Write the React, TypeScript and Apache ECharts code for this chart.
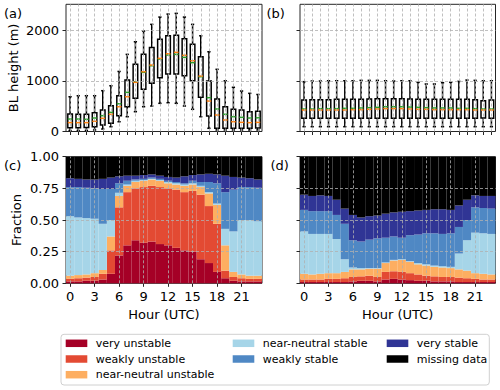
import React, { useEffect, useRef } from "react";
import * as echarts from "echarts";

// ---------- categories ----------
const hours = ["0","1","2","3","4","5","6","7","8","9","10","11","12","13","14","15","16","17","18","19","20","21","22","23"];
const classNames = ["very unstable","weakly unstable","near-neutral unstable","near-neutral stable","weakly stable","very stable","missing data"];
const classColors = ["#a50026","#e34a33","#fdae61","#a6d5e8","#4f88c4","#303595","#000000"];

// ---------- panel (a): BL height box statistics (m) ----------
const aMin  = [20, 20, 20, 30, 49, 95, 193, 292, 391, 489, 503, 556, 568, 556, 503, 438, 292, 63, 30, 30, 30, 30, 30, 30];
const aQ1   = [75, 75, 78, 95, 128, 161, 312, 489, 655, 832, 950, 1061, 1134, 1134, 1100, 1002, 674, 306, 63, 63, 63, 63, 65, 70];
const aMed  = [175, 174, 174, 201, 260, 339, 489, 686, 970, 1180, 1311, 1443, 1534, 1562, 1503, 1396, 1094, 601, 325, 227, 193, 181, 174, 180];
const aQ3   = [345, 340, 340, 371, 424, 509, 706, 1016, 1325, 1522, 1660, 1818, 1889, 1897, 1830, 1720, 1475, 996, 641, 489, 438, 424, 391, 400];
const aMax  = [686, 706, 706, 706, 805, 903, 1185, 1522, 1771, 1982, 2114, 2258, 2317, 2331, 2258, 2114, 1889, 1574, 1227, 1002, 872, 799, 753, 730];
const aMean = [246, 246, 240, 266, 312, 378, 548, 773, 982, 1167, 1298, 1430, 1509, 1522, 1463, 1357, 1081, 667, 444, 339, 292, 280, 266, 270];

// ---------- panel (b): BL height box statistics (m) ----------
const bMin  = [95, 95, 95, 95, 95, 95, 95, 95, 95, 95, 95, 95, 95, 95, 95, 95, 95, 95, 95, 95, 95, 95, 95, 95];
const bQ1   = [260, 260, 260, 260, 260, 260, 260, 260, 260, 260, 260, 260, 260, 260, 260, 260, 260, 260, 260, 260, 260, 260, 267, 260];
const bMed  = [424, 424, 424, 424, 424, 424, 431, 431, 438, 444, 451, 451, 451, 444, 438, 438, 431, 431, 431, 431, 431, 424, 424, 424];
const bQ3   = [621, 628, 628, 628, 635, 635, 635, 635, 641, 648, 648, 648, 648, 641, 635, 635, 635, 635, 635, 635, 635, 628, 608, 621];
const bMax  = [983, 996, 996, 1002, 1002, 1002, 1002, 1009, 1009, 1009, 1002, 996, 1002, 1002, 970, 937, 937, 963, 970, 989, 1015, 1009, 1002, 1002];
const bMean = [444, 444, 451, 451, 451, 457, 457, 464, 470, 477, 489, 489, 489, 483, 477, 470, 464, 464, 464, 457, 457, 451, 444, 444];

// ---------- panel (c): class fractions ----------
const cVeryUnstable   = [0.015, 0.015, 0.02, 0.02, 0.03, 0.075, 0.22, 0.30, 0.34, 0.32, 0.33, 0.31, 0.30, 0.28, 0.26, 0.25, 0.19, 0.16, 0.09, 0.04, 0.02, 0.015, 0.015, 0.015];
const cWeaklyUnstable = [0.02, 0.025, 0.025, 0.03, 0.045, 0.185, 0.38, 0.42, 0.41, 0.44, 0.44, 0.45, 0.45, 0.46, 0.46, 0.48, 0.51, 0.45, 0.38, 0.06, 0.03, 0.025, 0.02, 0.02];
const cNNUnstable     = [0.025, 0.025, 0.025, 0.03, 0.03, 0.11, 0.09, 0.05, 0.05, 0.05, 0.05, 0.05, 0.04, 0.04, 0.05, 0.05, 0.06, 0.10, 0.15, 0.20, 0.04, 0.03, 0.025, 0.025];
const cNNStable       = [0.47, 0.455, 0.445, 0.43, 0.365, 0.13, 0.025, 0.01, 0.01, 0.005, 0.005, 0.005, 0.01, 0.01, 0.01, 0.01, 0.01, 0.01, 0.01, 0.13, 0.32, 0.43, 0.44, 0.43];
const cWeaklyStable   = [0.23, 0.24, 0.24, 0.24, 0.275, 0.245, 0.075, 0.03, 0.01, 0.01, 0.01, 0.01, 0.01, 0.01, 0.01, 0.02, 0.03, 0.08, 0.16, 0.29, 0.33, 0.26, 0.26, 0.265];
const cVeryStable     = [0.07, 0.065, 0.065, 0.07, 0.08, 0.09, 0.055, 0.04, 0.03, 0.03, 0.025, 0.025, 0.03, 0.035, 0.055, 0.045, 0.06, 0.065, 0.07, 0.13, 0.10, 0.075, 0.07, 0.065];
const cMissing        = [0.17, 0.175, 0.18, 0.18, 0.175, 0.165, 0.155, 0.15, 0.15, 0.145, 0.14, 0.15, 0.16, 0.165, 0.155, 0.145, 0.14, 0.135, 0.14, 0.15, 0.16, 0.165, 0.17, 0.18];

// ---------- panel (d): class fractions ----------
const dVeryUnstable   = [0.01, 0.01, 0.01, 0.01, 0.01, 0.01, 0.015, 0.02, 0.02, 0.015, 0.03, 0.035, 0.03, 0.025, 0.02, 0.02, 0.015, 0.015, 0.015, 0.01, 0.01, 0.01, 0.01, 0.01];
const dWeaklyUnstable = [0.02, 0.02, 0.02, 0.025, 0.025, 0.03, 0.035, 0.035, 0.04, 0.035, 0.06, 0.06, 0.06, 0.055, 0.05, 0.04, 0.04, 0.035, 0.035, 0.035, 0.03, 0.025, 0.02, 0.02];
const dNNUnstable     = [0.045, 0.04, 0.045, 0.045, 0.045, 0.05, 0.06, 0.055, 0.055, 0.065, 0.07, 0.085, 0.095, 0.09, 0.08, 0.08, 0.075, 0.075, 0.07, 0.065, 0.06, 0.045, 0.045, 0.04];
const dNNStable       = [0.335, 0.32, 0.315, 0.31, 0.27, 0.10, 0.015, 0.01, 0.005, 0.005, 0.005, 0.005, 0.005, 0.005, 0.01, 0.01, 0.01, 0.01, 0.01, 0.125, 0.24, 0.32, 0.32, 0.32];
const dWeaklyStable   = [0.17, 0.18, 0.18, 0.18, 0.19, 0.28, 0.215, 0.21, 0.225, 0.235, 0.195, 0.185, 0.17, 0.205, 0.225, 0.245, 0.255, 0.255, 0.265, 0.21, 0.16, 0.20, 0.20, 0.20];
const dVeryStable     = [0.12, 0.12, 0.125, 0.12, 0.12, 0.12, 0.20, 0.19, 0.185, 0.18, 0.19, 0.19, 0.205, 0.19, 0.19, 0.185, 0.19, 0.195, 0.185, 0.17, 0.16, 0.095, 0.095, 0.10];
const dMissing        = [0.30, 0.31, 0.305, 0.31, 0.34, 0.41, 0.46, 0.48, 0.47, 0.465, 0.45, 0.44, 0.435, 0.43, 0.425, 0.42, 0.415, 0.415, 0.42, 0.385, 0.34, 0.305, 0.31, 0.31];

// ---------- tick labels ----------
const heightTicks = [0, 1000, 2000];
const fractionTicks = [0, 0.25, 0.5, 0.75, 1];
const hourGridLines = ["0","3","6","9","12","15","18","21"];

const FONT = "DejaVu Sans";
const GRID_LINE = { type: [3, 2] as any, color: "#b0b0b0", width: 0.8 };

function boxData(mn: number[], q1: number[], md: number[], q3: number[], mx: number[], mean: number[]) {
  return hours.map((_, i) => [i, mn[i], q1[i], md[i], q3[i], mx[i], mean[i]]);
}

function renderBox(params: any, api: any) {
  const x = api.value(0);
  const lo = api.coord([x, api.value(1)]);
  const q1 = api.coord([x, api.value(2)]);
  const md = api.coord([x, api.value(3)]);
  const q3 = api.coord([x, api.value(4)]);
  const hi = api.coord([x, api.value(5)]);
  const mn = api.coord([x, api.value(6)]);
  const bw = api.size([1, 0])[0];
  const half = bw * 0.28;
  const cap = bw * 0.2;
  const cx = lo[0];
  const k = { stroke: "#000", lineWidth: 1.5 };
  return {
    type: "group",
    children: [
      { type: "line", shape: { x1: cx, y1: hi[1], x2: cx, y2: q3[1] }, style: k },
      { type: "line", shape: { x1: cx, y1: q1[1], x2: cx, y2: lo[1] }, style: k },
      { type: "line", shape: { x1: cx - cap, y1: hi[1], x2: cx + cap, y2: hi[1] }, style: k },
      { type: "line", shape: { x1: cx - cap, y1: lo[1], x2: cx + cap, y2: lo[1] }, style: k },
      { type: "rect", shape: { x: cx - half, y: q3[1], width: 2 * half, height: q1[1] - q3[1] }, style: { fill: "none", stroke: "#000", lineWidth: 1.5 } },
      { type: "line", shape: { x1: cx - half, y1: mn[1], x2: cx + half, y2: mn[1] }, style: { stroke: "#2ca02c", lineWidth: 1.5 } },
      { type: "line", shape: { x1: cx - half, y1: md[1], x2: cx + half, y2: md[1] }, style: { stroke: "#ff7f0e", lineWidth: 1.5 } },
    ],
  };
}

function gridMarkLine(xs: string[], ys: number[]) {
  return {
    silent: true,
    symbol: ["none", "none"],
    label: { show: false },
    emphasis: { disabled: true },
    lineStyle: GRID_LINE,
    data: [...xs.map((h) => ({ xAxis: h })), ...ys.map((v) => ({ yAxis: v }))],
  };
}

const G = [
  { left: 66, top: 4.3, width: 196, height: 127.2 },
  { left: 300, top: 4.3, width: 195.5, height: 127.2 },
  { left: 66, top: 156.7, width: 196, height: 126.6 },
  { left: 300, top: 156.7, width: 195.5, height: 126.6 },
];

const tickStyle = { show: true, length: 3.5, lineStyle: { color: "#262626", width: 1 } };
const labelStyle = { fontSize: 13, color: "#000", fontFamily: FONT };

function xAxis(gi: number, withLabels: boolean) {
  return {
    type: "category",
    gridIndex: gi,
    data: hours,
    boundaryGap: true,
    axisLine: { show: false },
    splitLine: { show: false },
    axisTick: { ...tickStyle, alignWithLabel: true, interval: withLabels ? 2 : 0 },
    axisLabel: withLabels ? { ...labelStyle, interval: 2, margin: 7 } : { show: false },
    name: withLabels ? "Hour (UTC)" : "",
    nameLocation: "middle",
    nameGap: 25,
    nameTextStyle: labelStyle,
  };
}

function yAxis(gi: number, kind: "h" | "f", withLabels: boolean) {
  const isH = kind === "h";
  return {
    type: "value",
    gridIndex: gi,
    min: 0,
    max: isH ? 2510 : 1,
    interval: isH ? 1000 : 0.25,
    axisLine: { show: false },
    splitLine: { show: false },
    axisTick: { ...tickStyle, customValues: isH ? heightTicks : fractionTicks },
    axisLabel: withLabels
      ? {
          ...labelStyle,
          margin: 7,
          customValues: isH ? heightTicks : fractionTicks,
          formatter: (v: number) => (isH ? (v % 1000 === 0 ? String(v) : "") : v.toFixed(2)),
        }
      : { show: false },
    name: withLabels ? (isH ? "BL height (m)" : "Fraction") : "",
    nameLocation: "middle",
    nameGap: isH ? 46 : 43,
    nameTextStyle: labelStyle,
  };
}

export default function App() {
  const ref = useRef<HTMLDivElement>(null);
  useEffect(() => {
    if (!ref.current) return;
    const chart = echarts.init(ref.current, undefined, { renderer: "svg" });

    const cSets = [cVeryUnstable, cWeaklyUnstable, cNNUnstable, cNNStable, cWeaklyStable, cVeryStable, cMissing];
    const dSets = [dVeryUnstable, dWeaklyUnstable, dNNUnstable, dNNStable, dWeaklyStable, dVeryStable, dMissing];

    const barSeries = (sets: number[][], gi: number, stack: string) =>
      sets.map((arr, k) => ({
        type: "bar",
        name: classNames[k],
        xAxisIndex: gi,
        yAxisIndex: gi,
        stack,
        data: arr,
        barCategoryGap: "0%",
        itemStyle: { color: classColors[k] },
        emphasis: { disabled: true },
        z: 2,
        ...(k === sets.length - 1 ? { markLine: gridMarkLine(hourGridLines, [0.25, 0.5, 0.75]) } : {}),
      }));

    const legendCols = [65.7, 232.7, 386.7];
    const legendRows = [343.3, 359, 374.7];
    const legendPos = [[0, 0], [0, 1], [0, 2], [1, 0], [1, 1], [2, 0], [2, 1]];
    const legends = classNames.map((nm, k) => ({
      show: true,
      left: legendCols[legendPos[k][0]],
      top: legendRows[legendPos[k][1]] - 6.5,
      padding: 0,
      itemWidth: 21.6,
      itemHeight: 7.5,
      itemGap: 0,
      icon: "rect",
      selectedMode: false,
      data: [nm],
      textStyle: { fontSize: 11, color: "#000", fontFamily: FONT, lineHeight: 13, padding: [0, 0, 0, 3.4] },
    }));

    const panelLabel = (t: string, x: number, y: number) => ({
      type: "text",
      x,
      y,
      style: { text: t, fontSize: 13, fontFamily: FONT, fill: "#000", align: "left", verticalAlign: "middle" },
    });

    chart.setOption({
      animation: false,
      textStyle: { fontFamily: FONT },
      grid: G.map((g) => ({ ...g, show: true, borderColor: "#262626", borderWidth: 1, backgroundColor: "transparent" })),
      xAxis: [xAxis(0, false), xAxis(1, false), xAxis(2, true), xAxis(3, true)],
      yAxis: [yAxis(0, "h", true), yAxis(1, "h", false), yAxis(2, "f", true), yAxis(3, "f", false)],
      legend: legends,
      graphic: [
        { type: "rect", shape: { x: 61, y: 334.3, width: 428.3, height: 50.7, r: 3 }, style: { fill: "none", stroke: "#d0d0d0", lineWidth: 1 }, z: 0 },
        panelLabel("(a)", 4, 13.3),
        panelLabel("(b)", 266.5, 13.3),
        panelLabel("(c)", 4, 165.8),
        panelLabel("(d)", 270.5, 165.8),
      ],
      series: [
        {
          type: "custom",
          name: "BL height a",
          xAxisIndex: 0,
          yAxisIndex: 0,
          data: boxData(aMin, aQ1, aMed, aQ3, aMax, aMean),
          encode: { x: 0, y: [1, 2, 3, 4, 5, 6] },
          renderItem: renderBox,
          markLine: gridMarkLine(hours, [1000, 2000]),
          z: 3,
        },
        {
          type: "custom",
          name: "BL height b",
          xAxisIndex: 1,
          yAxisIndex: 1,
          data: boxData(bMin, bQ1, bMed, bQ3, bMax, bMean),
          encode: { x: 0, y: [1, 2, 3, 4, 5, 6] },
          renderItem: renderBox,
          markLine: gridMarkLine(hours, [1000, 2000]),
          z: 3,
        },
        ...barSeries(cSets, 2, "c"),
        ...barSeries(dSets, 3, "d"),
      ],
    });
    return () => chart.dispose();
  }, []);
  return <div ref={ref} style={{ position: "fixed", left: 0, top: 0, width: 500, height: 390, background: "#fff" }} />;
}
